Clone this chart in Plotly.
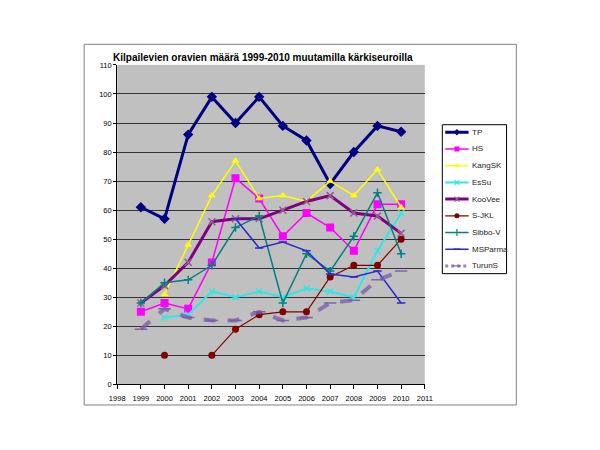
import plotly.graph_objects as go

years = list(range(1999, 2011))

tp = [61, 57, 86, 99, 90, 99, 89, 84, 69, 80, 89, 87]
hs = [25, 28, 26, 42, 71, 64, 51, 59, 54, 46, 62, 62]
kangsk = [None, 31, 48, 65, 77, 64, 65, 63, 70, 65, 74, 61]
essu = [None, 23, 24, 32, 30, 32, 30, 33, 32, 30, 46, 59]
koovee = [28, 34, 42, 56, 57, 57, 60, 63, 65, 59, 58, 52]
sjkl = [None, 10, None, 10, 19, 24, 25, 25, 37, 41, 41, 50]
sibbov = [28, 35, 36, 41, 54, 58, 28, 45, 39, 51, 66, 45]
msparma = [None, None, None, None, 57, 47, 49, 46, 38, 37, 39, 28]
turuns = [19, 26, 23, 22, 22, 25, 22, 23, 28, 29, 36, 39]

names = ["TP", "HS", "KangSK", "EsSu", "KooVee", "S-JKL", "Sibbo-V", "MSParma", "TurunS"]
values = [tp, hs, kangsk, essu, koovee, sjkl, sibbov, msparma, turuns]

# line colour, width, dash, marker symbol, marker size, marker colour
styles = [
    ("#000080", 3, "solid", "diamond", 8, "#000080"),
    ("#FF00FF", 1.5, "solid", "square", 8, "#FF00FF"),
    ("#FFFF00", 1.5, "solid", "triangle-up", 7, "#FFFF00"),
    ("#33E6E6", 2, "solid", "x-thin", 6, "#33E6E6"),
    ("#800080", 3, "solid", "x-thin", 7, "#9A5A9A"),
    ("#800000", 1.2, "solid", "circle", 7, "#800000"),
    ("#008080", 1.5, "solid", "cross-thin", 6, "#008080"),
    ("#2A2ACC", 1.5, "solid", "line-ew", 6, "#2A2ACC"),
    ("rgba(120,90,170,0.75)", 4, "dash", "line-ew", 9, "rgba(120,90,170,0.9)"),
]

fig = go.Figure()

for name, vals, (col, w, dash, sym, size, mcol) in zip(names, values, styles):
    thin = "thin" in sym or "line" in sym
    fig.add_trace(go.Scatter(
        x=years, y=vals, name=name, mode="lines+markers", showlegend=False,
        line=dict(color=col, width=w, dash=dash),
        marker=dict(symbol=sym, size=size, color=mcol,
                    line=dict(color=mcol, width=1.5 if thin else 0)),
    ))

# hand-drawn legend on its own small axes (px units inside the box)
annotations = []
for i, (name, (col, w, dash, sym, size, mcol)) in enumerate(zip(names, styles)):
    yy = 7.7 + 17.05 * i
    thin = "thin" in sym or "line" in sym
    fig.add_trace(go.Scatter(
        x=[3, 27], y=[yy, yy], mode="lines", xaxis="x2", yaxis="y2",
        showlegend=False, hoverinfo="skip",
        line=dict(color=col, width=min(w, 3), dash="dot" if dash == "dash" else "solid"),
    ))
    fig.add_trace(go.Scatter(
        x=[15], y=[yy], mode="markers", xaxis="x2", yaxis="y2",
        showlegend=False, hoverinfo="skip",
        marker=dict(symbol=sym, size=max(size - 3, 5), color=mcol,
                    line=dict(color=mcol, width=1.2 if thin else 0)),
    ))
    annotations.append(dict(text=name, x=28, y=yy, xref="x2", yref="y2",
                            xanchor="left", yanchor="middle", showarrow=False,
                            font=dict(size=8, color="#222")))

fig.update_layout(
    width=600, height=450,
    margin=dict(l=0, r=0, t=0, b=0),
    paper_bgcolor="white",
    plot_bgcolor="#C0C0C0",
    font=dict(family="Liberation Sans, Arial", size=7.5, color="black"),
    title=dict(text="<b>Kilpailevien oravien määrä 1999-2010 muutamilla kärkiseuroilla</b>",
               xref="container", yref="container",
               x=0.175, xanchor="left", y=0.891, yanchor="middle",
               font=dict(size=10, color="black")),
    showlegend=False,
    annotations=annotations,
    xaxis=dict(domain=[0.1733, 0.7], range=[1998, 2011], dtick=1, tick0=1998,
               showgrid=False, showline=True, linecolor="black", linewidth=1,
               ticks="outside", ticklen=4, tickcolor="black", zeroline=False,
               ticklabelstandoff=3),
    yaxis=dict(domain=[0.1556, 0.88], range=[0, 110], dtick=10, showgrid=True,
               gridcolor="#333333", gridwidth=1, showline=True, linecolor="black",
               linewidth=1, ticks="outside", ticklen=3, tickcolor="black",
               zeroline=False),
    xaxis2=dict(domain=[0.73, 0.84], range=[0, 66], visible=False, fixedrange=True),
    yaxis2=dict(domain=[0.4067, 0.7444], range=[152, 0], visible=False, fixedrange=True),
    shapes=[
        dict(type="rect", xref="paper", yref="paper",
             x0=0.1167, x1=0.8567, y0=0.1089, y1=0.9267,
             line=dict(color="#808080", width=1), fillcolor="rgba(0,0,0,0)",
             layer="above"),
        dict(type="rect", xref="x2 domain", yref="y2 domain",
             x0=0, x1=1, y0=0, y1=1,
             line=dict(color="black", width=1), fillcolor="white",
             layer="below"),
    ],
)

fig.write_html("out.html")
